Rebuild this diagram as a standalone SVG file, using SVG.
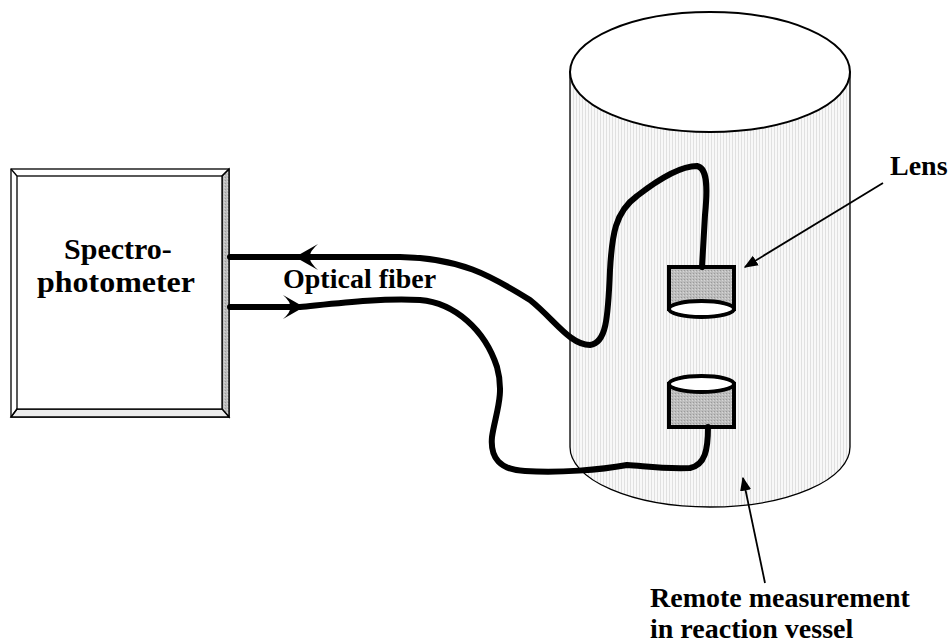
<svg xmlns="http://www.w3.org/2000/svg" width="948" height="643" viewBox="0 0 948 643">
  <defs>
    <!-- fine vertical hatch used for the vessel wall -->
    <pattern id="wallHatch" width="3" height="4" patternUnits="userSpaceOnUse">
      <rect width="3" height="4" fill="#f8f8f8"/>
      <rect x="0" y="0" width="1" height="4" fill="#e0e0e0"/>
    </pattern>
    <!-- darker stipple for the lens housings and box bevel -->
    <pattern id="greyStipple" width="3" height="3" patternUnits="userSpaceOnUse">
      <rect width="3" height="3" fill="#bdbdbd"/>
      <rect x="0" y="0" width="1" height="1" fill="#9a9a9a"/>
      <rect x="2" y="1" width="1" height="1" fill="#d6d6d6"/>
    </pattern>
    <marker id="pointerLg" viewBox="0 0 10 10" refX="9" refY="5" markerWidth="14" markerHeight="14" markerUnits="userSpaceOnUse" orient="auto">
      <path d="M0,1 L10,5 L0,9 Z" fill="#000"/>
    </marker>
  </defs>
  <style>
    .label { font-family: "Liberation Serif", "Times New Roman", serif; font-weight: bold; fill: #000; }
    .fiber { fill: none; stroke: #000; stroke-width: 6; stroke-linecap: round; stroke-linejoin: round; }
    .lensBody { fill: url(#greyStipple); stroke: #000; stroke-width: 4; }
    .lensFace { fill: #fff; stroke: #000; stroke-width: 4; }
    .leader { stroke: #000; stroke-width: 1.8; fill: none; }
    .edge { stroke: #000; stroke-width: 1.3; }
  </style>

  <rect width="948" height="643" fill="#fff"/>

  <!-- Spectrophotometer box with bevelled frame -->
  <g id="spectrophotometer">
    <rect x="11" y="169" width="218" height="248" fill="#fff" class="edge"/>
    <polygon points="229,169 229,417 222,409 222,176" fill="url(#greyStipple)" class="edge"/>
    <polygon points="11,417 229,417 222,409 17,409" fill="#ececec" class="edge"/>
    <rect x="17" y="176" width="205" height="233" fill="#fff" class="edge"/>
    <line x1="11" y1="169" x2="17" y2="176" class="edge"/>
    <line x1="229" y1="169" x2="222" y2="176" class="edge"/>
    <line x1="11" y1="417" x2="17" y2="409" class="edge"/>
    <text class="label" x="118" y="259" font-size="30" text-anchor="middle">Spectro-</text>
    <text class="label" x="116" y="292" font-size="30" text-anchor="middle" textLength="158" lengthAdjust="spacingAndGlyphs">photometer</text>
  </g>

  <!-- Reaction vessel drawn as a cylinder -->
  <g id="vessel">
    <path d="M570,72 L570,447 A140,60 0 0 0 850,447 L850,72 Z" fill="url(#wallHatch)" class="edge"/>
    <ellipse cx="710" cy="72" rx="140" ry="60" fill="#fff" stroke="#000" stroke-width="2"/>
  </g>

  <!-- Lens heads -->
  <g id="upper-lens">
    <rect x="669" y="267" width="65" height="42" class="lensBody"/>
    <ellipse cx="701.5" cy="309" rx="32.5" ry="8" class="lensFace"/>
  </g>
  <g id="lower-lens">
    <rect x="669" y="384" width="65" height="43" class="lensBody"/>
    <ellipse cx="701.5" cy="384" rx="32.5" ry="8" class="lensFace"/>
  </g>

  <!-- Optical fibers and pointers -->
  <g id="connectors">
    <!-- return fiber: upper lens back to the spectrophotometer -->
    <path class="fiber" d="M230,257 L400,257 C460,258 490,275 530,300 C555,320 570,345 590,345 C606,343 608,320 610,270 C612,235 615,212 637,196 C655,182 680,166 697,166 C707,168 708,185 705,215 L702,267"/>
    <!-- delivery fiber: spectrophotometer to lower lens -->
    <path class="fiber" d="M230,307 L300,307 C340,303 380,298 420,300 C455,303 485,330 497,367 C505,395 495,415 492,437 C490,458 500,470 525,471 C560,473 600,470 627,465 C645,466 660,469 690,468 C705,465 708,450 708,427"/>
    <!-- swept arrowheads on the fibers -->
    <path d="M295,257 L318,244 Q309,252 310,257 Q309,262 318,270 Z" fill="#000"/>
    <path d="M304,307 L283,295 Q291,302 290,307 Q291,312 283,319 Z" fill="#000"/>
    <!-- label pointers -->
    <line class="leader" x1="883" y1="183" x2="745" y2="267" marker-end="url(#pointerLg)"/>
    <line class="leader" x1="765" y1="583" x2="743" y2="478" marker-end="url(#pointerLg)"/>
  </g>

  <g id="labels">
    <text class="label" x="283" y="288" font-size="28">Optical fiber</text>
    <text class="label" x="890" y="175" font-size="28">Lens</text>
    <text class="label" x="650" y="607" font-size="28">Remote measurement</text>
    <text class="label" x="650" y="638" font-size="28">in reaction vessel</text>
  </g>
</svg>
